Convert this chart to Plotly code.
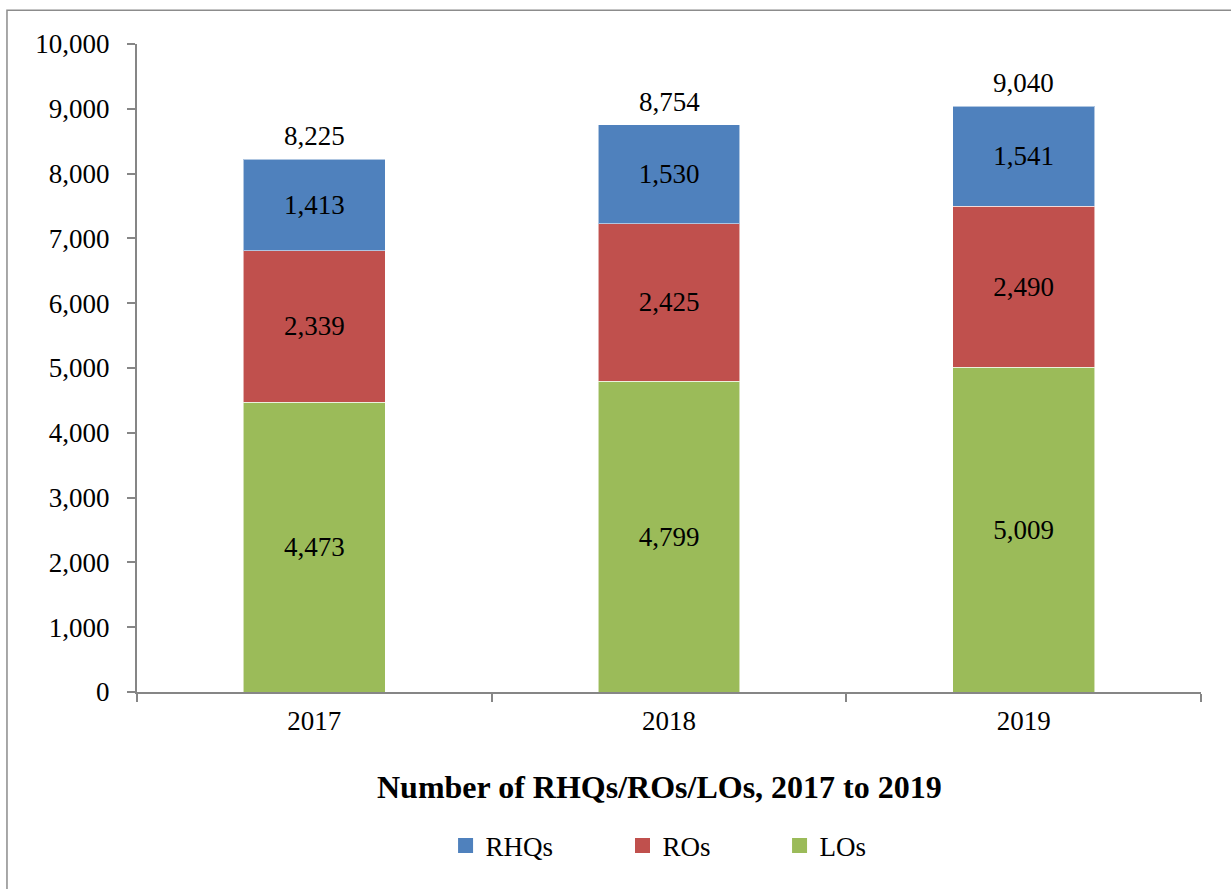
import plotly.graph_objects as go

years = ["2017", "2018", "2019"]
los = [4473, 4799, 5009]
ros = [2339, 2425, 2490]
rhqs = [1413, 1530, 1541]
totals = [8225, 8754, 9040]

series = [("LOs", los, "#9BBB59"), ("ROs", ros, "#C0504D"), ("RHQs", rhqs, "#4F81BD")]

font_family = "Liberation Serif, Times New Roman, serif"
label_font = dict(family=font_family, size=27, color="black")
edge = dict(color="rgba(255,255,255,0.55)", width=1)

fig = go.Figure()
# stacked bars, LOs at the bottom
for name, values, color in series:
    fig.add_trace(go.Bar(
        name=name, x=years, y=values,
        marker=dict(color=color, line=edge),
        text=[f"{v:,}" for v in values],
        textposition="inside", insidetextanchor="middle",
        constraintext="none", textfont=label_font,
        hoverinfo="skip", showlegend=False,
    ))

# legend entries with square swatches, one legend box per entry
legend_x = {"RHQs": 0.2900, "ROs": 0.4563, "LOs": 0.6039}
legend_ids = {"RHQs": "legend", "ROs": "legend2", "LOs": "legend3"}
for name, values, color in series:
    fig.add_trace(go.Scatter(
        name=name, x=[years[0]], y=[None], mode="markers",
        marker=dict(symbol="square", size=15, color=color),
        legend=legend_ids[name], hoverinfo="skip",
    ))

legend_common = dict(
    orientation="h", y=-0.2377, yanchor="middle", xanchor="left",
    font=dict(family=font_family, size=27, color="black"),
    itemwidth=30, bgcolor="rgba(0,0,0,0)",
)

annotations = [dict(
    text="<b>Number of RHQs/ROs/LOs, 2017 to 2019</b>",
    xref="paper", yref="paper", x=0.4915, y=-0.147,
    xanchor="center", yanchor="middle", showarrow=False,
    font=dict(family=font_family, size=32, color="black"),
)]
# stack totals above each bar (category index on the x axis)
for i, total in enumerate(totals):
    annotations.append(dict(
        x=i, y=total, xref="x", yref="y", text=f"{total:,}",
        showarrow=False, yanchor="bottom", yshift=6, font=label_font,
    ))

fig.update_layout(
    width=1231, height=889,
    barmode="stack", bargap=0.6,
    paper_bgcolor="white", plot_bgcolor="white",
    font=dict(family=font_family, size=27, color="black"),
    margin=dict(l=137, r=30, t=44, b=197, autoexpand=False),
    legend=dict(x=legend_x["RHQs"], **legend_common),
    legend2=dict(x=legend_x["ROs"], **legend_common),
    legend3=dict(x=legend_x["LOs"], **legend_common),
    annotations=annotations,
    shapes=[dict(
        type="rect", xref="paper", yref="paper",
        x0=-0.1222, x1=1.1, y0=-0.5, y1=1.052,
        line=dict(color="#8c8c8c", width=1.5), fillcolor="rgba(0,0,0,0)",
        layer="below",
    )],
)

fig.update_xaxes(
    type="category", categoryorder="array", categoryarray=years,
    range=[-0.5, len(years) - 0.5],
    showline=True, linecolor="#868686", linewidth=2,
    ticks="outside", tickson="boundaries", ticklen=8, tickcolor="#868686",
    tickwidth=1.5, showgrid=False, zeroline=False, ticklabelstandoff=4,
    tickfont=label_font,
)
fig.update_yaxes(
    range=[0, 10000], dtick=1000, tickformat=",",
    showline=True, linecolor="#868686", linewidth=2,
    ticks="outside", ticklen=8, tickcolor="#868686", tickwidth=1.5,
    showgrid=False, zeroline=False, ticklabelstandoff=12,
    tickfont=label_font,
)

fig.write_html("out.html")
